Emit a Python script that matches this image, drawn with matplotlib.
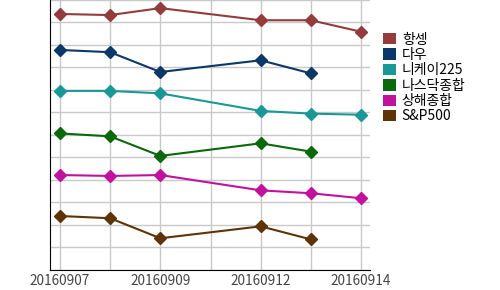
import numpy as np
import matplotlib
matplotlib.use("Agg")
import matplotlib.pyplot as plt
from matplotlib.patches import Patch

plt.rcParams['font.family'] = ['Noto Sans CJK KR', 'DejaVu Sans']

dates = ['20160907', '20160908', '20160909', '', '20160912', '20160913', '20160914']
tick_labels = ['20160907', '', '20160909', '', '20160912', '', '20160914']

nan = np.nan
hangseng = [11.38, 11.33, 11.64, nan, 11.10, 11.10, 10.59]
dow = [9.78, 9.68, 8.80, nan, 9.32, 8.74, nan]
nikkei = [7.96, 7.96, 7.85, nan, 7.07, 6.95, 6.90]
nasdaq = [6.07, 5.94, 5.07, nan, 5.63, 5.26, nan]
shanghai = [4.22, 4.18, 4.22, nan, 3.54, 3.41, 3.19]
sp500 = [2.40, 2.30, 1.41, nan, 1.94, 1.36, nan]

names = ['항셍', '다우', '니케이225', '나스닥종합', '상해종합', 'S&P500']
series = [hangseng, dow, nikkei, nasdaq, shanghai, sp500]
colors = ['#943c3c', '#0b3866', '#1a9898', '#0b680b', '#c0129c', '#5e3306']

fig = plt.figure(figsize=(5, 2.9), dpi=100)
ax = fig.add_axes([0.1, 0.069, 0.64, 0.931])

x = np.arange(len(dates))
for vals, c in zip(series, colors):
    v = np.array(vals, dtype=float)
    m = ~np.isnan(v)
    ax.plot(x[m], v[m], color=c, lw=1.5, marker='D', ms=6, zorder=3)

ax.set_xlim(-0.2, 6.18)
ax.set_ylim(0, 12)
ax.set_xticks(x)
ax.set_xticklabels(tick_labels, fontsize=9.8, color='#444444')
ax.set_yticks(np.arange(0, 13))
ax.set_yticklabels([])
ax.tick_params(length=0, pad=3)
ax.grid(True, color='#c8c8c8', lw=1)
ax.set_axisbelow(True)
for s in ['top', 'right']:
    ax.spines[s].set_visible(False)
ax.spines['left'].set_color('black')
ax.spines['bottom'].set_color('black')

handles = [Patch(facecolor=c, edgecolor='none') for c in colors]
fig.legend(handles, names, loc='upper left', bbox_to_anchor=(0.755, 0.907),
           frameon=False, fontsize=10, handlelength=0.9, handleheight=0.9,
           handletextpad=0.45, labelspacing=0.1, borderaxespad=0)

fig.savefig('out.png', dpi=100)
